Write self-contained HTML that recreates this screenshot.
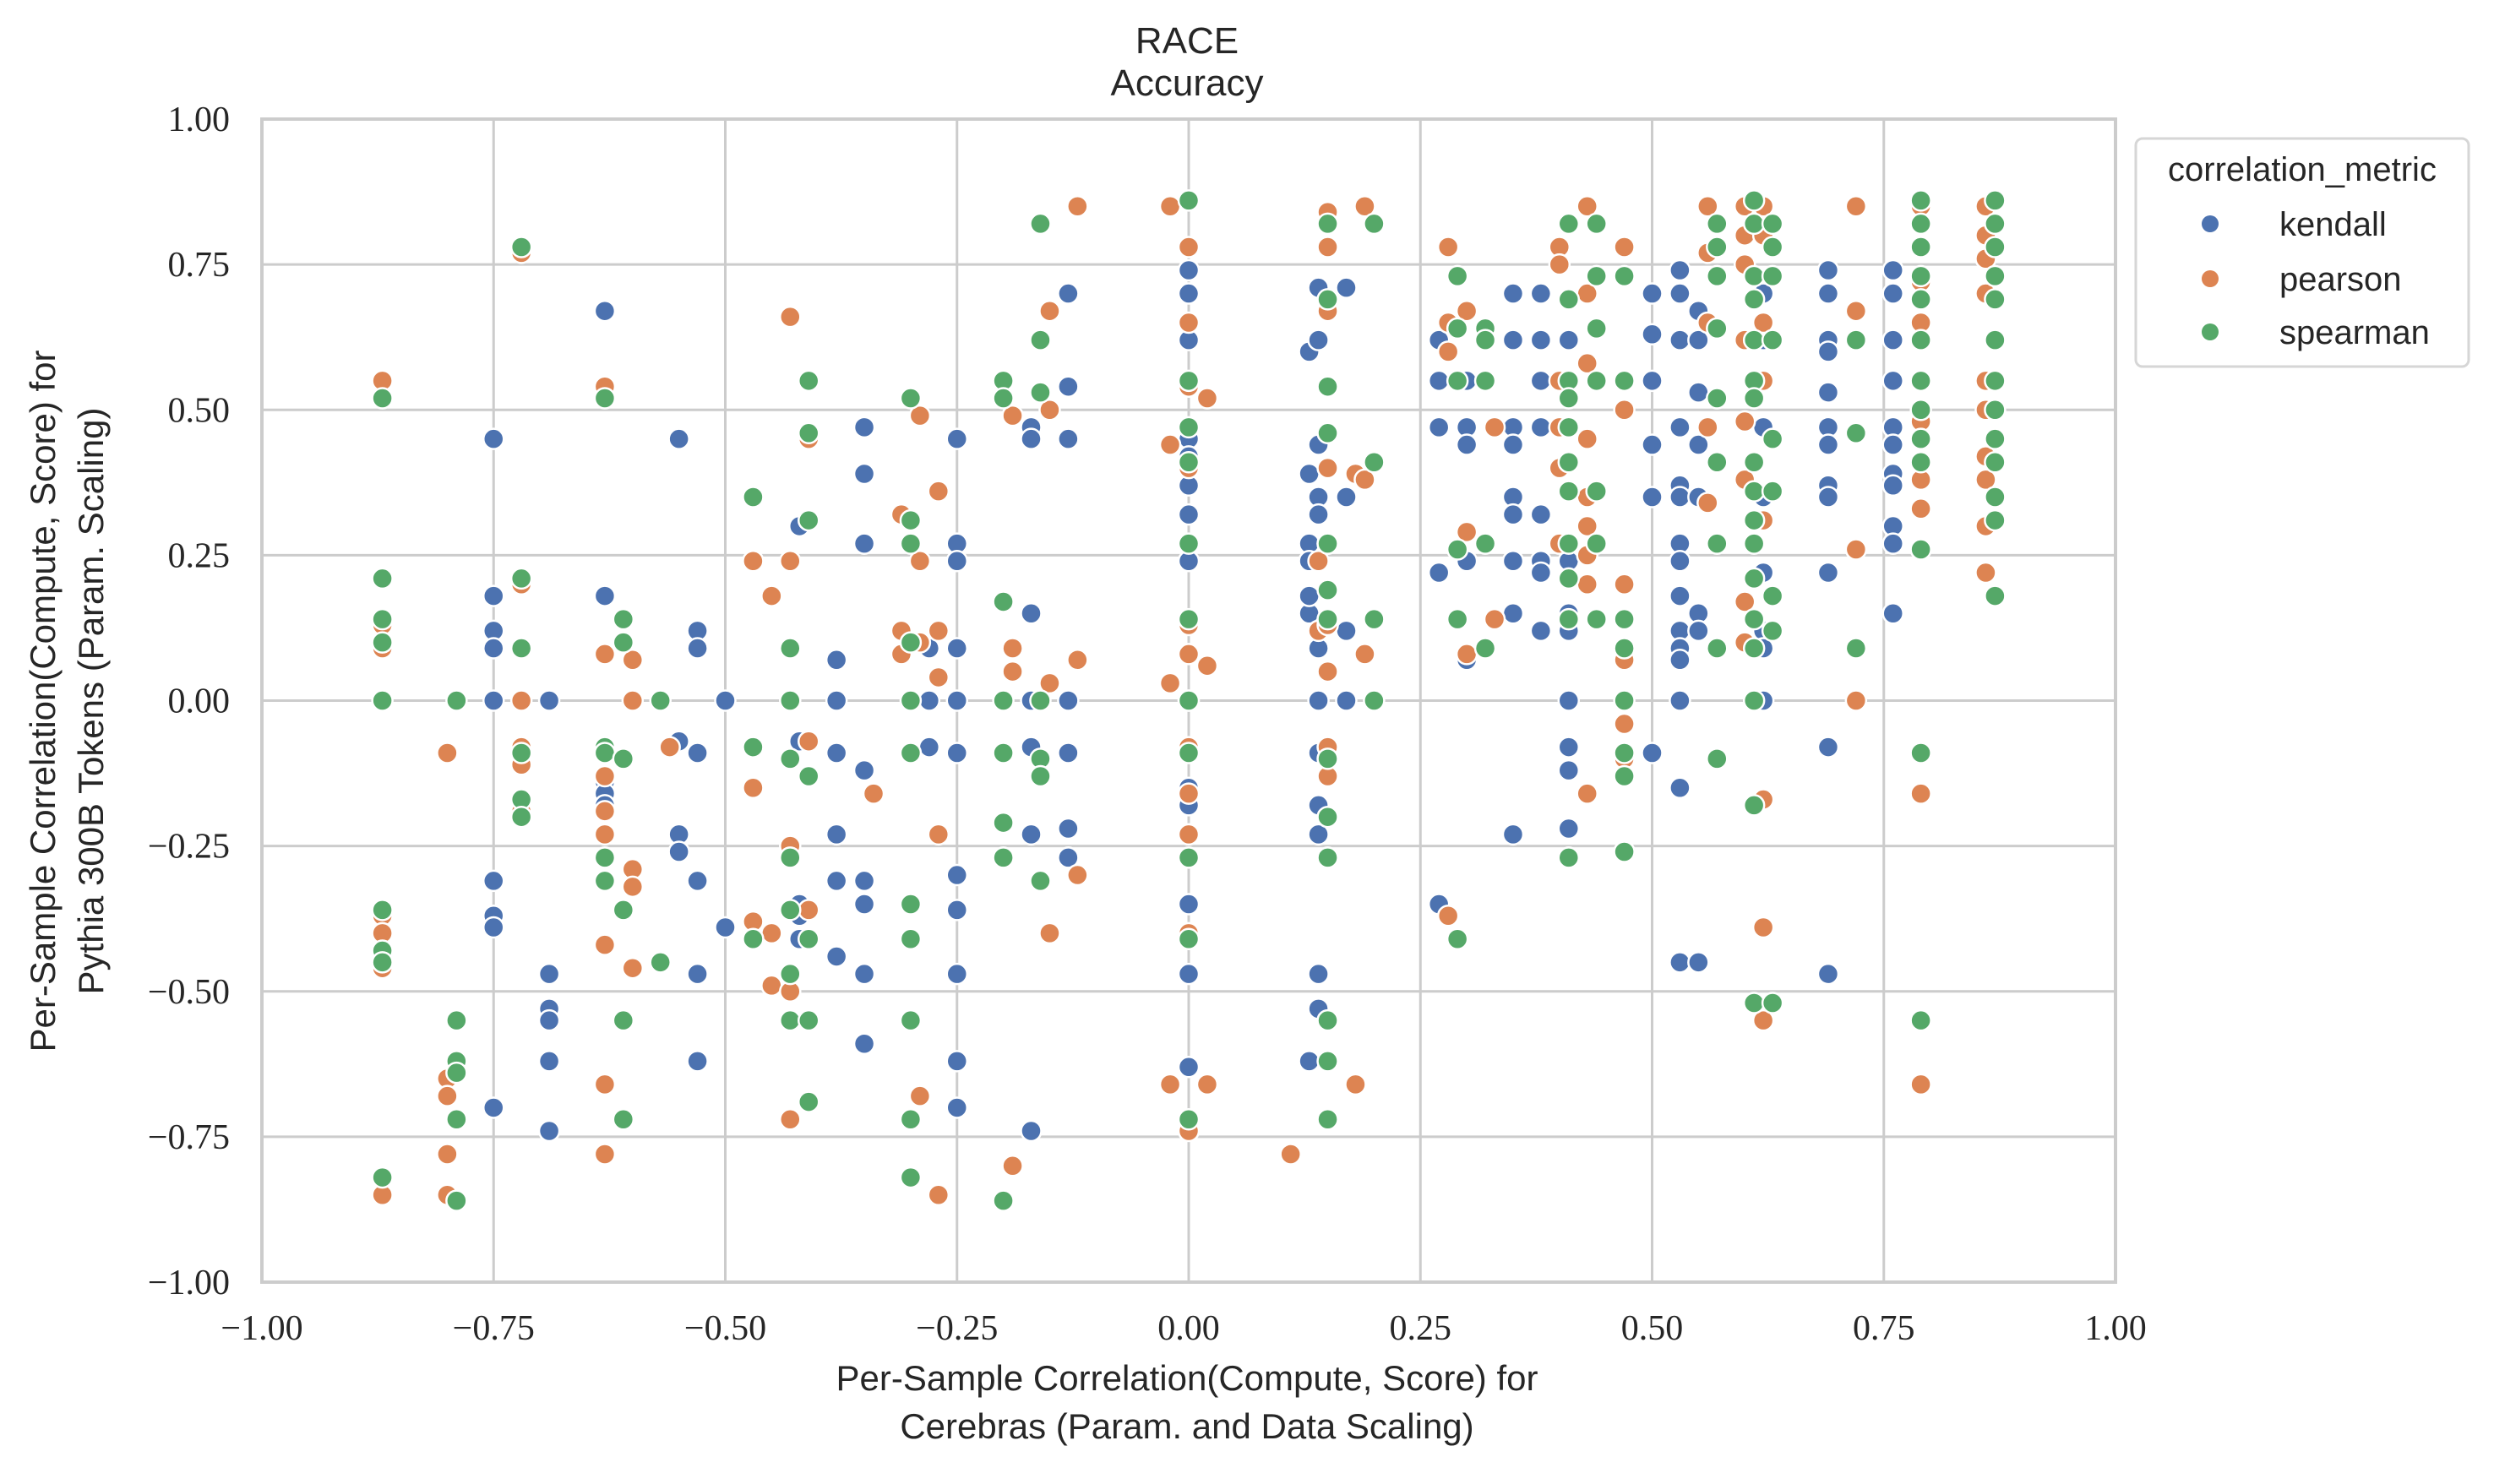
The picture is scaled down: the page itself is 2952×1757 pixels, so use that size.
<!DOCTYPE html>
<html><head><meta charset="utf-8"><style>
html,body{margin:0;padding:0;background:#fff;}
svg text{fill:#262626;}
.sans{font-family:"Liberation Sans","DejaVu Sans",sans-serif;}
.serif{font-family:"Liberation Serif","DejaVu Serif",serif;}
</style></head><body>
<svg id="chart" width="2952" height="1752" xmlns="http://www.w3.org/2000/svg">
<g id="grid"></g>
<g id="points"></g>
<rect x="310" y="141" width="2194" height="1377" fill="none" stroke="#cccccc" stroke-width="4"/>
<g id="ticks"></g>
<text class="sans" x="1405" y="63" font-size="44" text-anchor="middle">RACE</text>
<text class="sans" x="1405" y="113" font-size="44" text-anchor="middle">Accuracy</text>
<text class="sans" font-size="42" text-anchor="middle"><tspan x="1405" y="1646">Per-Sample Correlation(Compute, Score) for</tspan><tspan x="1405" y="1703">Cerebras (Param. and Data Scaling)</tspan></text>
<text class="sans" font-size="42" text-anchor="middle" transform="translate(0,830) rotate(-90)"><tspan x="0" y="65">Per-Sample Correlation(Compute, Score) for</tspan><tspan x="0" y="122">Pythia 300B Tokens (Param. Scaling)</tspan></text>
<g>
<rect x="2528" y="164" width="394" height="270" rx="8" fill="#fff" stroke="#d6d6d6" stroke-width="3"/>
<text class="sans" x="2725" y="214" font-size="40" text-anchor="middle">correlation_metric</text>
<g><circle cx="2616" cy="265" r="10" fill="#4c72b0"/><text class="sans" x="2698" y="279" font-size="40">kendall</text></g>
<g><circle cx="2616" cy="330" r="10" fill="#dd8452"/><text class="sans" x="2698" y="344" font-size="40">pearson</text></g>
<g><circle cx="2616" cy="393" r="10" fill="#55a868"/><text class="sans" x="2698" y="407" font-size="40">spearman</text></g>
</g>
</svg>
<script>
const xTicks = [-1, -0.75, -0.5, -0.25, 0, 0.25, 0.5, 0.75, 1];
const yTicks = [-1, -0.75, -0.5, -0.25, 0, 0.25, 0.5, 0.75, 1];
const seriesNames = ["kendall", "pearson", "spearman"];
const seriesColors = ["#4c72b0", "#dd8452", "#55a868"];
const kendallData = [
[-0.75,[0.45,0.18,0.12,0.09,0,-0.31,-0.37,-0.39,-0.7]],
[-0.69,[0,-0.47,-0.53,-0.55,-0.62,-0.74]],
[-0.63,[0.67,0.18,0.08,-0.08,-0.14,-0.16,-0.18]],
[-0.55,[0.45,-0.07,-0.23,-0.26]],
[-0.53,[0.12,0.09,-0.09,-0.31,-0.47,-0.62]],
[-0.5,[0,-0.39]],
[-0.42,[0.3,-0.07,-0.35,-0.37,-0.41]],
[-0.38,[0.07,0,-0.09,-0.23,-0.31,-0.44]],
[-0.35,[0.47,0.39,0.27,-0.12,-0.31,-0.35,-0.47,-0.59]],
[-0.28,[0.09,0,-0.08]],
[-0.25,[0.45,0.27,0.24,0.09,0,-0.09,-0.3,-0.36,-0.47,-0.62,-0.7]],
[-0.17,[0.47,0.45,0.15,0,-0.08,-0.23,-0.74]],
[-0.13,[0.7,0.54,0.45,0,-0.09,-0.22,-0.27]],
[0,[0.74,0.7,0.62,0.45,0.42,0.37,0.32,0.24,0,-0.15,-0.18,-0.23,-0.35,-0.47,-0.63]],
[0.13,[0.6,0.39,0.27,0.24,0.15,0.18,-0.62]],
[0.14,[0.71,0.62,0.44,0.35,0.32,0.12,0.09,0,-0.09,-0.18,-0.23,-0.47,-0.53]],
[0.17,[0.71,0.35,0.12,0]],
[0.27,[0.62,0.55,0.47,0.22,-0.35]],
[0.3,[0.55,0.47,0.44,0.24,0.07]],
[0.35,[0.7,0.62,0.47,0.44,0.35,0.32,0.24,0.15,-0.23]],
[0.38,[0.7,0.62,0.55,0.47,0.32,0.24,0.22,0.12]],
[0.41,[0.62,0.55,0.47,0.24,0.15,0.12,0,-0.08,-0.12,-0.22]],
[0.5,[0.7,0.63,0.55,0.44,0.35,-0.09]],
[0.53,[0.74,0.7,0.62,0.47,0.37,0.35,0.27,0.24,0.18,0.12,0.09,0.07,0,-0.15,-0.45]],
[0.55,[0.67,0.62,0.53,0.44,0.35,0.15,0.12,-0.45]],
[0.62,[0.7,0.62,0.55,0.47,0.35,0.22,0.12,0.09,0]],
[0.69,[0.74,0.7,0.62,0.6,0.53,0.47,0.44,0.37,0.35,0.22,-0.08,-0.47]],
[0.76,[0.74,0.7,0.62,0.55,0.47,0.44,0.39,0.37,0.3,0.27,0.15]]
];
const pearsonData = [
[-0.87,[0.55,0.13,0.09,-0.37,-0.4,-0.46,-0.85]],
[-0.8,[-0.09,-0.65,-0.68,-0.78,-0.85]],
[-0.72,[0.77,0.2,0,-0.08,-0.11,-0.19]],
[-0.63,[0.54,0.08,-0.13,-0.19,-0.23,-0.27,-0.42,-0.66,-0.78]],
[-0.6,[0.07,0,-0.29,-0.32,-0.46]],
[-0.56,[-0.08]],
[-0.47,[0.24,-0.15,-0.38]],
[-0.45,[0.18,-0.4,-0.49]],
[-0.43,[0.66,0.24,-0.25,-0.5,-0.72]],
[-0.41,[0.45,-0.07,-0.36]],
[-0.34,[-0.16]],
[-0.31,[0.32,0.12,0.08]],
[-0.29,[0.49,0.24,0.1,-0.68]],
[-0.27,[0.36,0.12,0.04,-0.23,-0.85]],
[-0.19,[0.49,0.09,0.05,-0.8]],
[-0.15,[0.67,0.5,0.03,-0.4]],
[-0.12,[0.85,0.07,-0.3]],
[-0.02,[0.85,0.44,0.03,-0.66]],
[0,[0.78,0.65,0.54,0.4,0.13,0.08,-0.08,-0.16,-0.23,-0.4,-0.74]],
[0.02,[0.52,0.06,-0.66]],
[0.11,[-0.78]],
[0.14,[0.24,0.12]],
[0.15,[0.84,0.78,0.67,0.4,0.27,0.13,0.05,-0.08,-0.13]],
[0.18,[0.39,-0.66]],
[0.19,[0.85,0.38,0.08]],
[0.28,[0.78,0.65,0.6,-0.37]],
[0.3,[0.67,0.29,0.08]],
[0.33,[0.47,0.14]],
[0.4,[0.78,0.75,0.55,0.47,0.4,0.27]],
[0.43,[0.85,0.7,0.58,0.45,0.35,0.3,0.25,0.2,-0.16]],
[0.47,[0.78,0.5,0.2,0.07,-0.04,-0.1,-0.26]],
[0.56,[0.85,0.77,0.65,0.47,0.34]],
[0.6,[0.85,0.8,0.75,0.62,0.48,0.38,0.17,0.1]],
[0.62,[0.85,0.8,0.65,0.55,0.31,-0.17,-0.39,-0.55]],
[0.72,[0.85,0.67,0.26,0]],
[0.79,[0.85,0.78,0.72,0.65,0.55,0.48,0.38,0.33,-0.16,-0.66]],
[0.86,[0.85,0.8,0.76,0.7,0.55,0.5,0.42,0.38,0.3,0.22]]
];
const spearmanData = [
[-0.87,[0.52,0.21,0.14,0.1,0,-0.36,-0.43,-0.45,-0.82]],
[-0.79,[0,-0.55,-0.62,-0.64,-0.72,-0.86]],
[-0.72,[0.78,0.21,0.09,-0.09,-0.17,-0.2]],
[-0.63,[0.52,-0.08,-0.09,-0.27,-0.31]],
[-0.61,[0.14,0.1,-0.1,-0.36,-0.55,-0.72]],
[-0.57,[0,-0.45]],
[-0.47,[0.35,-0.08,-0.41]],
[-0.43,[0.09,0,-0.1,-0.27,-0.36,-0.47,-0.55]],
[-0.41,[0.55,0.46,0.31,-0.13,-0.41,-0.55,-0.69]],
[-0.3,[0.52,0.31,0.27,0.1,0,-0.09,-0.35,-0.41,-0.55,-0.72,-0.82]],
[-0.2,[0.55,0.52,0.17,0,-0.09,-0.21,-0.27,-0.86]],
[-0.16,[0.82,0.62,0.53,0,-0.1,-0.13,-0.31]],
[0,[0.86,0.55,0.47,0.41,0.27,0.14,0,-0.09,-0.27,-0.41,-0.72]],
[0.15,[0.82,0.69,0.54,0.46,0.27,0.19,0.14,-0.1,-0.2,-0.27,-0.55,-0.62,-0.72]],
[0.2,[0.82,0.41,0.14,0]],
[0.29,[0.73,0.64,0.55,0.26,0.14,-0.41]],
[0.32,[0.64,0.62,0.55,0.27,0.09]],
[0.41,[0.82,0.69,0.55,0.52,0.47,0.41,0.36,0.27,0.21,0.14,-0.27]],
[0.44,[0.82,0.73,0.64,0.55,0.36,0.27,0.14]],
[0.47,[0.73,0.55,0.14,0.09,0,-0.09,-0.13,-0.26]],
[0.57,[0.82,0.78,0.73,0.64,0.52,0.41,0.27,0.09,-0.1]],
[0.61,[0.86,0.82,0.73,0.69,0.62,0.55,0.52,0.41,0.36,0.31,0.27,0.21,0.14,0.09,0,-0.18,-0.52]],
[0.63,[0.82,0.78,0.73,0.62,0.45,0.36,0.18,0.12,-0.52]],
[0.72,[0.62,0.46,0.09]],
[0.79,[0.86,0.82,0.78,0.73,0.69,0.62,0.55,0.5,0.45,0.41,0.26,-0.09,-0.55]],
[0.87,[0.86,0.82,0.78,0.73,0.69,0.62,0.55,0.5,0.45,0.41,0.35,0.31,0.18]]
];
const allSeries = [kendallData, pearsonData, spearmanData];

const X0=310, X1=2504, Y0=1518, Y1=141;
function sx(v){return X0+(v+1)/2*(X1-X0);}
function sy(v){return Y0-(v+1)/2*(Y0-Y1);}
const NS="http://www.w3.org/2000/svg";
function fmt(v){const s=Math.abs(v).toFixed(2);return (v<0?"\u2212":"")+s;}
const grid=document.getElementById('grid');
const ticks=document.getElementById('ticks');
xTicks.forEach(v=>{
  const l=document.createElementNS(NS,'line');
  
  
  l.setAttribute('x1',sx(v));l.setAttribute('x2',sx(v));l.setAttribute('y1',Y1);l.setAttribute('y2',Y0);
  l.setAttribute('stroke','#cccccc');l.setAttribute('stroke-width','3');
  grid.appendChild(l);
  const t=document.createElementNS(NS,'text');
  
  
  t.setAttribute('class','serif');t.setAttribute('x',sx(v));t.setAttribute('y',1586);
  t.setAttribute('font-size','42');t.setAttribute('text-anchor','middle');
  t.textContent=fmt(v);ticks.appendChild(t);
});
yTicks.forEach(v=>{
  const l=document.createElementNS(NS,'line');
  
  
  l.setAttribute('x1',X0);l.setAttribute('x2',X1);l.setAttribute('y1',sy(v));l.setAttribute('y2',sy(v));
  l.setAttribute('stroke','#cccccc');l.setAttribute('stroke-width','3');
  grid.appendChild(l);
  const t=document.createElementNS(NS,'text');
  
  
  t.setAttribute('class','serif');t.setAttribute('x',272);t.setAttribute('y',sy(v)+14);
  t.setAttribute('font-size','42');t.setAttribute('text-anchor','end');
  t.textContent=fmt(v);ticks.appendChild(t);
});
const pts=document.getElementById('points');
allSeries.forEach((data,si)=>{
  data.forEach(col=>{
    col[1].forEach(y=>{
      const c=document.createElementNS(NS,'circle');
      
      
      c.setAttribute('cx',sx(col[0]));c.setAttribute('cy',sy(y));c.setAttribute('r','12');
      c.setAttribute('fill',seriesColors[si]);c.setAttribute('stroke','#fff');c.setAttribute('stroke-width','2.5');
      pts.appendChild(c);
    });
  });
});
</script>
</body></html>
